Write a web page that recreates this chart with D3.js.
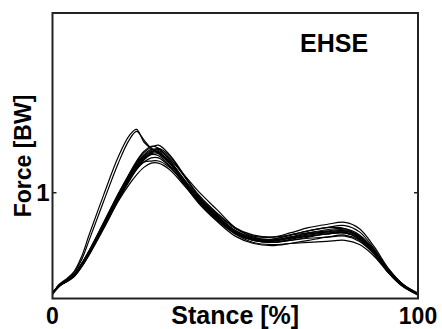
<!DOCTYPE html>
<html>
<head>
<meta charset="utf-8">
<script src="https://cdn.jsdelivr.net/npm/d3@7"></script>
<style>
  body { margin: 0; background: #fff; }
  svg { display: block; }
</style>
</head>
<body>
<div id="chart"></div>
<script>
// stance sample points [%]
const stance = [0, 2, 4, 6, 8, 10, 14, 18, 21, 23, 25, 27, 29, 32, 36, 40, 45, 50, 55, 60, 65, 70, 75, 80, 84, 88, 92, 96, 100];

// force traces [BW], one per trial
const trial01 = [0.05,0.13,0.17,0.22,0.32,0.44,0.70,0.97,1.15,1.26,1.34,1.39,1.39,1.29,1.11,0.93,0.77,0.63,0.56,0.54,0.57,0.60,0.62,0.63,0.56,0.43,0.25,0.12,0.04];
const trial02 = [0.04,0.12,0.16,0.21,0.30,0.41,0.66,0.92,1.08,1.17,1.24,1.28,1.28,1.22,1.07,0.91,0.75,0.61,0.53,0.51,0.52,0.53,0.54,0.55,0.51,0.40,0.24,0.11,0.03];
const trial03 = [0.05,0.13,0.18,0.23,0.33,0.45,0.71,0.98,1.17,1.29,1.38,1.43,1.45,1.36,1.17,0.97,0.80,0.66,0.59,0.58,0.62,0.67,0.70,0.72,0.66,0.49,0.28,0.13,0.05];
const trial04 = [0.05,0.14,0.19,0.26,0.40,0.60,0.98,1.34,1.54,1.60,1.48,1.42,1.38,1.29,1.12,0.94,0.78,0.64,0.57,0.55,0.58,0.61,0.63,0.64,0.58,0.45,0.26,0.12,0.04];
const trial05 = [0.05,0.13,0.18,0.25,0.37,0.55,0.92,1.28,1.50,1.58,1.50,1.42,1.37,1.28,1.10,0.92,0.76,0.62,0.55,0.53,0.56,0.59,0.61,0.62,0.56,0.44,0.25,0.12,0.04];
const trial06 = [0.05,0.12,0.16,0.21,0.30,0.42,0.67,0.93,1.11,1.22,1.31,1.38,1.42,1.35,1.16,0.96,0.79,0.64,0.56,0.53,0.55,0.58,0.61,0.62,0.57,0.45,0.27,0.13,0.04];
const trial07 = [0.05,0.13,0.17,0.22,0.32,0.43,0.69,0.95,1.13,1.24,1.31,1.36,1.35,1.26,1.08,0.90,0.73,0.59,0.52,0.50,0.52,0.55,0.58,0.60,0.55,0.42,0.24,0.11,0.04];
const trial08 = [0.05,0.13,0.17,0.23,0.33,0.45,0.72,0.99,1.17,1.28,1.36,1.41,1.40,1.32,1.17,1.01,0.84,0.67,0.58,0.56,0.60,0.64,0.67,0.69,0.63,0.47,0.27,0.13,0.04];
const trial09 = [0.04,0.12,0.17,0.22,0.31,0.43,0.68,0.94,1.12,1.22,1.29,1.33,1.33,1.25,1.09,0.92,0.76,0.62,0.56,0.55,0.58,0.61,0.63,0.64,0.58,0.44,0.25,0.12,0.04];
const trial10 = [0.05,0.13,0.18,0.23,0.33,0.45,0.71,0.99,1.18,1.30,1.39,1.44,1.42,1.31,1.12,0.93,0.76,0.62,0.55,0.54,0.58,0.62,0.65,0.66,0.60,0.46,0.26,0.12,0.04];
const trial11 = [0.05,0.12,0.17,0.22,0.31,0.42,0.68,0.95,1.13,1.24,1.32,1.37,1.37,1.28,1.10,0.91,0.74,0.61,0.55,0.53,0.55,0.57,0.58,0.59,0.54,0.42,0.25,0.12,0.04];
const trial12 = [0.05,0.13,0.17,0.22,0.32,0.44,0.70,0.96,1.14,1.25,1.33,1.38,1.38,1.30,1.13,0.95,0.78,0.64,0.57,0.56,0.60,0.64,0.67,0.66,0.58,0.43,0.24,0.11,0.04];
const trial13 = [0.05,0.12,0.17,0.22,0.32,0.44,0.70,0.96,1.13,1.23,1.29,1.30,1.30,1.24,1.10,0.94,0.78,0.64,0.57,0.55,0.57,0.59,0.61,0.62,0.57,0.44,0.26,0.13,0.05];
const trial14 = [0.05,0.13,0.18,0.23,0.33,0.44,0.71,0.98,1.16,1.27,1.35,1.40,1.41,1.33,1.16,0.98,0.81,0.67,0.60,0.58,0.60,0.62,0.64,0.65,0.59,0.45,0.26,0.12,0.04];

const trials = [trial01, trial02, trial03, trial04, trial05, trial06, trial07,
                trial08, trial09, trial10, trial11, trial12, trial13, trial14];

const xTicks = [0, 100];
const yTicks = [1];
const panelLabel = "EHSE";

const width = 442;
const height = 329;
const margin = { top: 13, right: 24, bottom: 30.5, left: 52.5 };

const x = d3.scaleLinear()
    .domain([0, 100])
    .range([margin.left, width - margin.right]);

const y = d3.scaleLinear()
    .domain([0, 2.7])
    .range([height - margin.bottom, margin.top]);

const svg = d3.select("#chart").append("svg")
    .attr("width", width)
    .attr("height", height)
    .attr("font-family", "Liberation Sans, Arial, sans-serif")
    .attr("font-weight", "bold");

const line = d3.line()
    .x((d, i) => x(stance[i]))
    .y(d => y(d))
    .curve(d3.curveCatmullRom.alpha(0.5));

svg.append("g")
    .attr("fill", "none")
    .attr("stroke", "#000")
    .attr("stroke-width", 1.2)
  .selectAll("path")
  .data(trials)
  .join("path")
    .attr("d", line);

// frame
svg.append("rect")
    .attr("x", x(0))
    .attr("y", y(2.7))
    .attr("width", x(100) - x(0))
    .attr("height", y(0) - y(2.7))
    .attr("fill", "none")
    .attr("stroke", "#222")
    .attr("stroke-width", 2);

// inward ticks, left and right
svg.append("g")
  .selectAll("line")
  .data(yTicks.flatMap(v => [[x(0), v, 1], [x(100), v, -1]]))
  .join("line")
    .attr("x1", d => d[0])
    .attr("x2", d => d[0] + d[2] * 4)
    .attr("y1", d => y(d[1]))
    .attr("y2", d => y(d[1]))
    .attr("stroke", "#222")
    .attr("stroke-width", 1.5);

svg.append("g")
    .attr("font-size", 24)
    .attr("text-anchor", "end")
  .selectAll("text")
  .data(yTicks)
  .join("text")
    .attr("x", x(0) - 3)
    .attr("y", d => y(d))
    .attr("dy", "0.36em")
    .text(d => d);

svg.append("g")
    .attr("font-size", 23)
    .attr("text-anchor", "middle")
  .selectAll("text")
  .data(xTicks)
  .join("text")
    .attr("x", d => x(d))
    .attr("y", 324)
    .text(d => d);

svg.append("text")
    .attr("x", (x(0) + x(100)) / 2)
    .attr("y", 324)
    .attr("text-anchor", "middle")
    .attr("font-size", 25)
    .text("Stance [%]");

svg.append("text")
    .attr("transform", `translate(31,${156}) rotate(-90)`)
    .attr("text-anchor", "middle")
    .attr("font-size", 23)
    .text("Force [BW]");

svg.append("text")
    .attr("x", 300)
    .attr("y", 51.5)
    .attr("font-size", 25)
    .text(panelLabel);
</script>
</body>
</html>
